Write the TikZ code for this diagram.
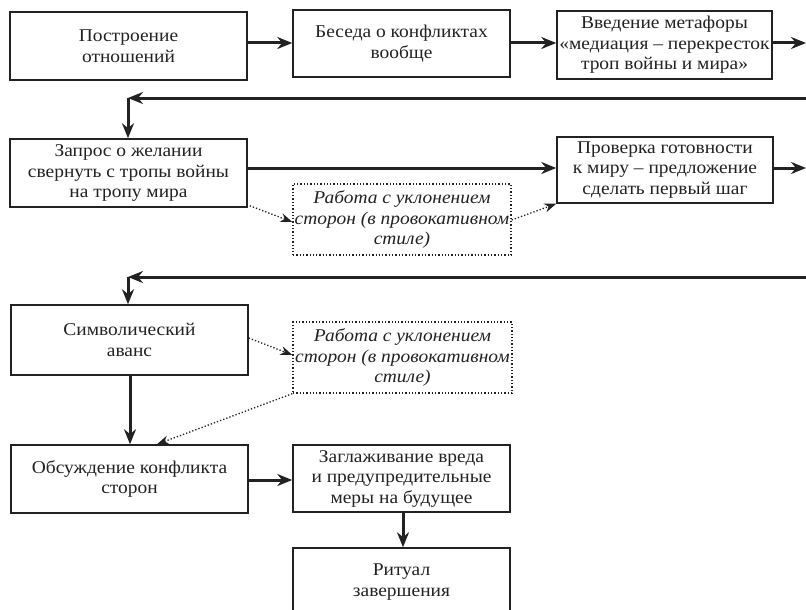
\documentclass[tikz,border=0pt]{standalone}
\usepackage{fontspec}
\setmainfont{Liberation Serif}[FakeStretch=1.08]
\usetikzlibrary{arrows.meta}
\definecolor{ink}{HTML}{222222}
\begin{document}
\begin{tikzpicture}[x=1pt,y=-1pt,
  box/.style={draw=ink, line width=1.5pt, align=center, inner sep=1pt,
    font=\fontsize{18}{20.5}\selectfont, text=ink},
  dbox/.style={draw=ink, line width=1.3pt, dotted, align=center, inner sep=1pt,
    font=\fontsize{18}{20.5}\selectfont\itshape, text=ink},
  arr/.style={draw=ink, line width=3pt, -{Stealth[length=15pt,width=12pt]}},
  darr/.style={draw=ink, line width=1.3pt, dotted, -{Stealth[length=12pt,width=9pt]}},
]
\useasboundingbox[fill=white] (0,0) rectangle (806,610);

\node[box, minimum width=237pt, minimum height=68pt] (b1) at (128.5,46) {Построение\\отношений};
\node[box, minimum width=217pt, minimum height=67pt] (b2) at (401.5,43.5) {Беседа о конфликтах\\вообще};
\node[box, minimum width=215pt, minimum height=68pt] (b3) at (664.5,45) {Введение метафоры\\«медиация – перекресток\\троп войны и мира»};

\node[box, minimum width=237pt, minimum height=68pt] (q) at (128.5,173) {Запрос о желании\\свернуть с тропы войны\\на тропу мира};
\node[box, minimum width=216pt, minimum height=66pt] (p) at (665,170) {Проверка готовности\\к миру – предложение\\сделать первый шаг};
\node[dbox, minimum width=218pt, minimum height=71pt] (d1) at (402,219.5) {Работа с уклонением\\сторон (в провокативном\\стиле)};

\node[box, minimum width=237pt, minimum height=70pt] (s) at (129.5,340) {Символический\\аванс};
\node[dbox, minimum width=219pt, minimum height=71pt] (d2) at (402.5,357.5) {Работа с уклонением\\сторон (в провокативном\\стиле)};

\node[box, minimum width=237pt, minimum height=68pt] (o) at (129.5,479) {Обсуждение конфликта\\сторон};
\node[box, minimum width=217pt, minimum height=67pt] (z) at (401.5,478.5) {Заглаживание вреда\\и предупредительные\\меры на будущее};
\node[box, minimum width=217pt, minimum height=68pt] (r) at (401.5,582) {Ритуал\\завершения};

% coordinates for free ends
\coordinate (e1) at (806,43);
\coordinate (e2) at (806,168);
\coordinate (r1s) at (808,98);
\coordinate (r1c) at (128,98);
\coordinate (r2s) at (808,277);
\coordinate (r2c) at (128,277);

% top row
\draw[arr] (b1.east |- 0,43) -- (b2.west |- 0,43);
\draw[arr] (b2.east |- 0,43) -- (b3.west |- 0,43);
\draw[arr] (b3.east |- e1) -- (e1);

% return 1
\draw[arr] (r1s) -- (r1c);
\draw[arr] (r1c) -- (q.north -| r1c);

% second row
\draw[arr] (q.east |- e2) -- (p.west |- e2);
\draw[arr] (p.east |- e2) -- (e2);
\draw[darr] (q.south east) ++(2,-2) coordinate (qa) (qa) -- (d1.west |- 0,222);
\draw[darr] (d1.east |- 0,220) -- (p.south west);

% return 2
\draw[arr] (r2s) -- (r2c);
\draw[arr] (r2c) -- (s.north -| r2c);

% third row
\draw[darr] (s.east |- 0,338) -- (d2.west |- 0,355);
\draw[arr] (s.south -| 130,0) -- (o.north -| 130,0);
\draw[darr] (d2.south west) -- (o.north -| 157,0);

% bottom
\draw[arr] (o.east |- 0,480) -- (z.west |- 0,480);
\draw[arr] (z.south -| 403,0) -- (r.north -| 403,0);
\end{tikzpicture}
\end{document}
